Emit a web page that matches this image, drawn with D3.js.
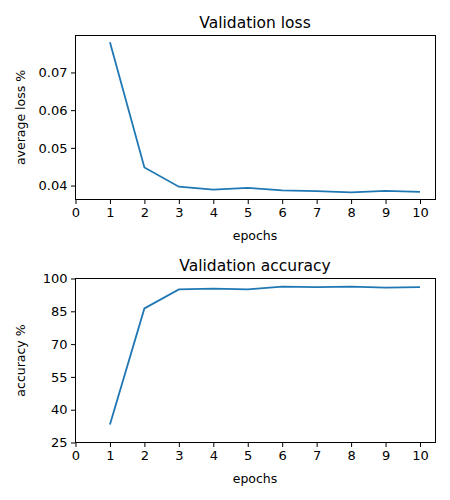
<!DOCTYPE html>
<html><head><meta charset="utf-8">
<script src="https://cdn.jsdelivr.net/npm/d3@7/dist/d3.min.js"></script>
<style>body{margin:0;background:#fff}text{font-family:"DejaVu Sans",sans-serif}</style>
</head><body><svg id="c" width="450" height="500"></svg>
<script>
const epochs=[1,2,3,4,5,6,7,8,9,10];
const lossValues=[0.0780,0.0448,0.0397,0.0389,0.0394,0.0387,0.0385,0.0382,0.0386,0.0383];
const accValues=[33.2,86.3,95.0,95.4,95.0,96.3,96.1,96.3,95.8,96.1];
const xTicks=[0,1,2,3,4,5,6,7,8,9,10];
const lossTicks=[0.04,0.05,0.06,0.07];
const accTicks=[25,40,55,70,85,100];
const svg=d3.select("#c");
function panel(top,bottom,vals,yDom,yTicks,fmt,title,ylabel){
  const x=d3.scaleLinear().domain([0,10.45]).range([75.5,435.5]);
  const y=d3.scaleLinear().domain(yDom).range([bottom,top]);
  const g=svg.append("g");
  const ax=g.append("g").attr("transform",`translate(0,${bottom})`).call(d3.axisBottom(x).tickValues(xTicks).tickSize(4.5).tickPadding(3.5));
  const ay=g.append("g").attr("transform",`translate(75.5,0)`).call(d3.axisLeft(y).tickValues(yTicks).tickFormat(fmt).tickSize(4.5).tickPadding(3.5));
  [ax,ay].forEach(a=>{a.select(".domain").remove();a.selectAll("text").attr("font-size",13).attr("fill","#000");a.selectAll("line").attr("stroke","#000");});
  g.append("path").datum(epochs).attr("fill","none").attr("stroke","#1f77b4").attr("stroke-width",1.8)
   .attr("d",d3.line().x(d=>x(d)).y((d,i)=>y(vals[i])));
  g.append("rect").attr("x",75.5).attr("y",top).attr("width",360).attr("height",bottom-top).attr("fill","none").attr("stroke","#000").attr("stroke-width",1);
  g.append("text").attr("x",255).attr("y",top-8).attr("text-anchor","middle").attr("font-size",15.5).text(title);
  g.append("text").attr("x",255).attr("y",bottom+40).attr("text-anchor","middle").attr("font-size",12.5).text("epochs");
  g.append("text").attr("transform",`translate(25,${(top+bottom)/2}) rotate(-90)`).attr("text-anchor","middle").attr("font-size",12.5).text(ylabel);
}
panel(35.5,199.5,lossValues,[0.0363,0.0798],lossTicks,d3.format(".2f"),"Validation loss","average loss %");
panel(278.5,442.5,accValues,[25,100],accTicks,d3.format("d"),"Validation accuracy","accuracy %");
</script></body></html>
